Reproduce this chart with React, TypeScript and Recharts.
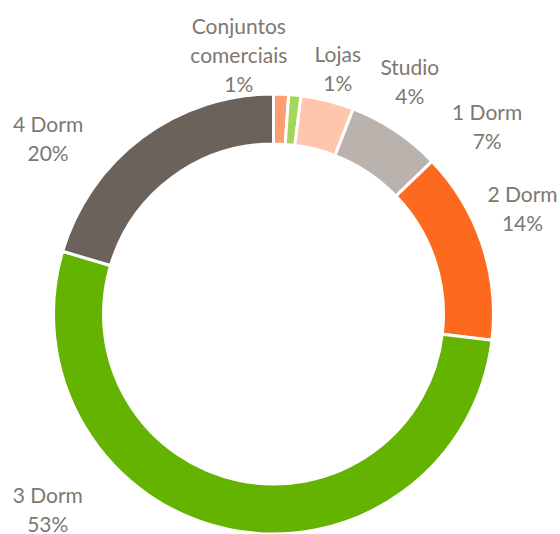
import { PieChart, Pie, Cell } from "recharts"

// unit mix (share of total, %)
const categories = ["Conjuntos comerciais", "Lojas", "Studio", "1 Dorm", "2 Dorm", "3 Dorm", "4 Dorm"]
const shares = [1.1, 0.9, 3.9, 6.9, 14.1, 52.7, 20.4]
const colors = ["#fb9f72", "#a5d65c", "#ffc6ad", "#bab3ad", "#fd6a1f", "#63b300", "#6b625c"]

// labels were hand-placed in the source, so nudge them from the radial spot
const labelNudge = [
  [-44, 11],
  [38, 24],
  [70, 30],
  [64, 38],
  [-7, -19],
  [-171, -68],
  [-64, 41],
]

const data = categories.map((name, i) => ({ name, value: shares[i] }))

const RAD = Math.PI / 180
const LINE_H = 29

const renderLabel = (props: any) => {
  const { cx, cy, midAngle, outerRadius, percent, index, name } = props
  const r = outerRadius + 50
  const x = cx + r * Math.cos(-midAngle * RAD) + labelNudge[index][0]
  const y = cy + r * Math.sin(-midAngle * RAD) + labelNudge[index][1]
  const lines = name.length > 12 ? name.split(" ") : [name]
  lines.push(`${Math.round(percent * 100)}%`)
  const n = lines.length
  return (
    <text
      x={x}
      y={y}
      textAnchor="middle"
      fill="#80776f"
      fontSize={21}
      fontFamily="Lato, 'Open Sans', sans-serif"
    >
      {lines.map((line: string, i: number) => (
        <tspan key={i} x={x} y={y + (i - (n - 1) / 2) * LINE_H + 7.5}>
          {line}
        </tspan>
      ))}
    </text>
  )
}

export default function App() {
  return (
    <div style={{ position: "absolute", left: 0, top: 0, width: 560, height: 534, background: "#fff" }}>
      <PieChart width={560} height={534} margin={{ top: 0, right: 0, bottom: 0, left: 0 }}>
        <Pie
          data={data}
          dataKey="value"
          nameKey="name"
          cx={273.5}
          cy={314}
          innerRadius={170}
          outerRadius={220}
          startAngle={90}
          endAngle={-270}
          stroke="#ffffff"
          strokeWidth={3}
          label={renderLabel}
          labelLine={false}
          isAnimationActive={false}
        >
          {data.map((d, i) => (
            <Cell key={d.name} fill={colors[i]} />
          ))}
        </Pie>
      </PieChart>
    </div>
  )
}
